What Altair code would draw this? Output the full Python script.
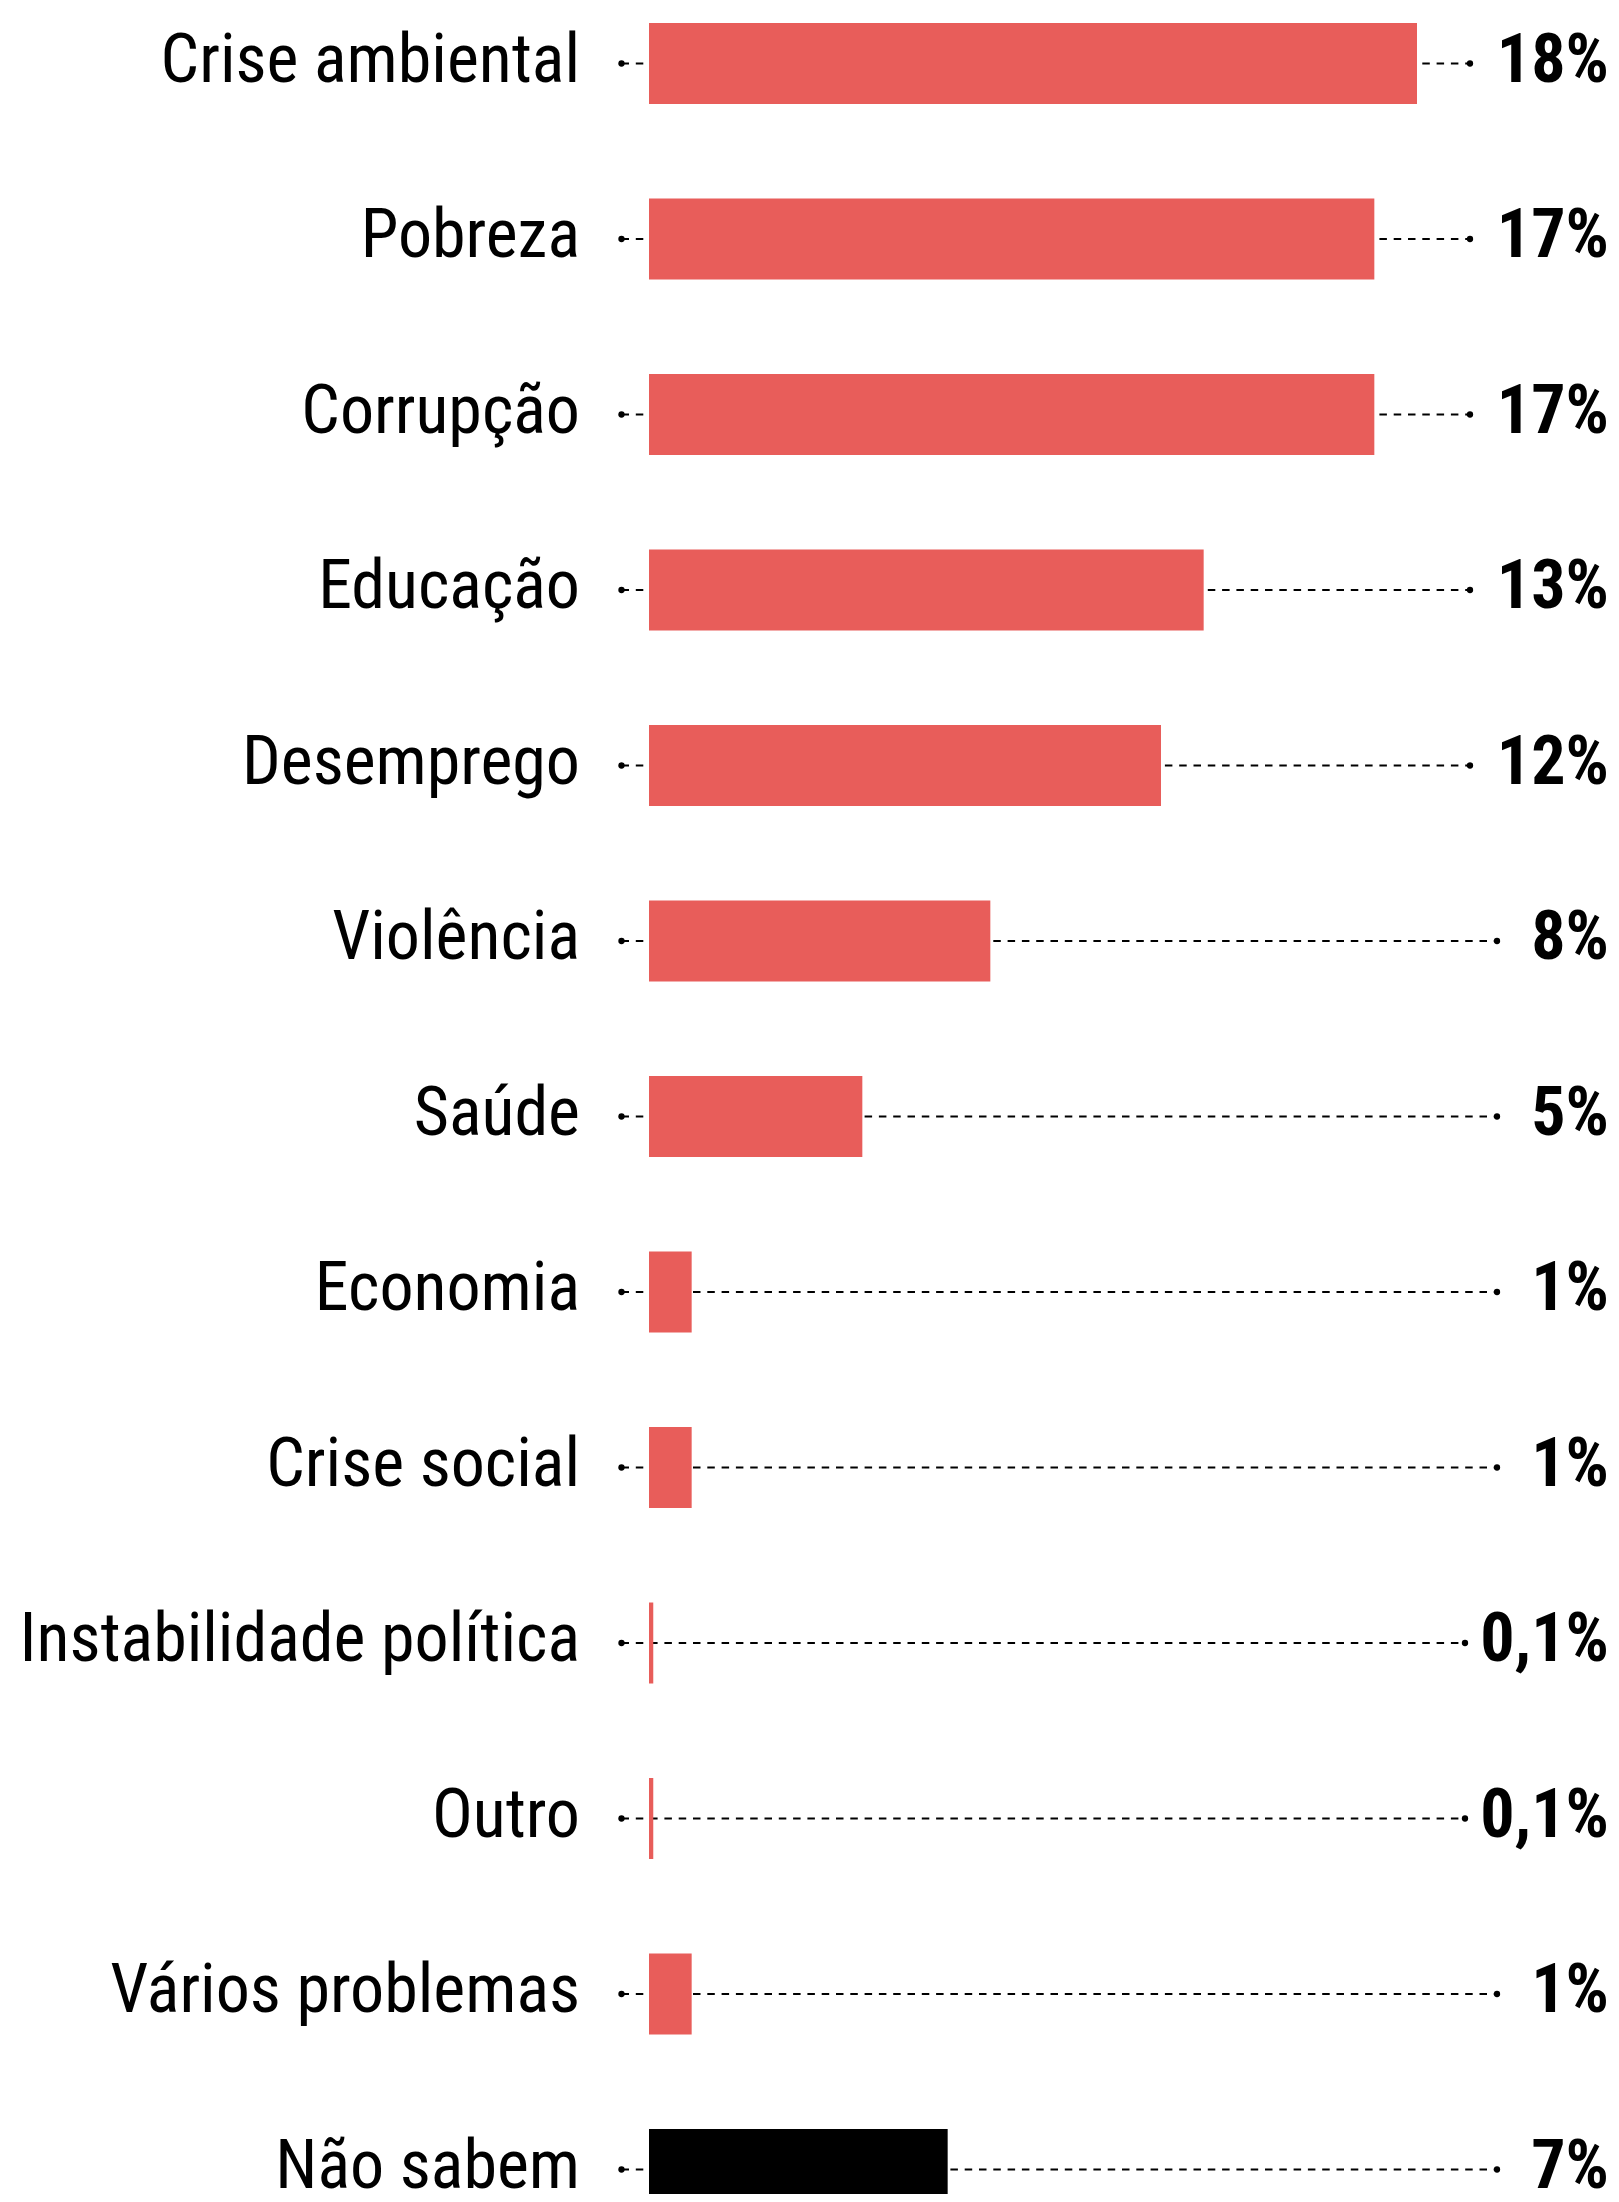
import altair as alt
import pandas as pd

categories = ["Crise ambiental", "Pobreza", "Corrupção", "Educação", "Desemprego",
              "Violência", "Saúde", "Economia", "Crise social",
              "Instabilidade política", "Outro", "Vários problemas", "Não sabem"]
values = [18, 17, 17, 13, 12, 8, 5, 1, 1, 0.1, 0.1, 1, 7]
value_labels = ["18%", "17%", "17%", "13%", "12%", "8%", "5%", "1%", "1%",
                "0,1%", "0,1%", "1%", "7%"]

df = pd.DataFrame({
    "idx": list(range(len(categories))),
    "category": categories,
    "value": values,
    "label": value_labels,
})

RED = "#E85D5A"
FONT = "Roboto Condensed, Liberation Sans Narrow, DejaVu Sans Condensed, sans-serif"

base = alt.Chart(df).transform_calculate(
    start="613.5",
    end="length(datum.label) <= 2 ? 1489 : (length(datum.label) == 3 ? 1462 : 1457)",
)

y = alt.Y("idx:Q", scale=alt.Scale(domain=[0, 12], range=[55.5, 2161.5], padding=0, nice=False, zero=False), axis=None)

rule = base.mark_rule(color="black", strokeWidth=1.8, strokeDash=[7.5, 6.8], clip=True).encode(
    x=alt.X("start:Q", scale=None),
    x2="end:Q",
    y=y,
)

dot_start = base.mark_circle(color="black", size=40, opacity=1, clip=True).encode(
    x=alt.X("start:Q", scale=None),
    y=y,
)
dot_end = base.mark_circle(color="black", size=40, opacity=1, clip=True).encode(
    x=alt.X("end:Q", scale=None),
    y=y,
)

bars = base.mark_bar(orient="horizontal", size=81, clip=True).encode(
    x=alt.X("value:Q", scale=alt.Scale(domain=[0, 18], range=[641, 1409], padding=0, nice=False), axis=None, stack=None),
    y=y,
    color=alt.condition(alt.datum.category == "Não sabem", alt.value("black"), alt.value(RED)),
)

cat_text = base.mark_text(
    align="right", baseline="alphabetic", dy=18, font=FONT, fontSize=68,
    color="black", clip=True,
).encode(
    x=alt.value(572),
    y=y,
    text="category:N",
)

val_text = base.mark_text(
    align="right", baseline="alphabetic", dy=18, font=FONT, fontSize=68,
    fontWeight="bold", color="black", clip=True,
).encode(
    x=alt.value(1601),
    y=y,
    text="label:N",
)

chart = alt.layer(rule, dot_start, dot_end, bars, cat_text, val_text).properties(
    width=1603, height=2186, padding=0, autosize=alt.AutoSizeParams(type="none"),
).configure_view(stroke=None)

chart.save("out.html", embed_options={"renderer": "svg", "actions": False})
